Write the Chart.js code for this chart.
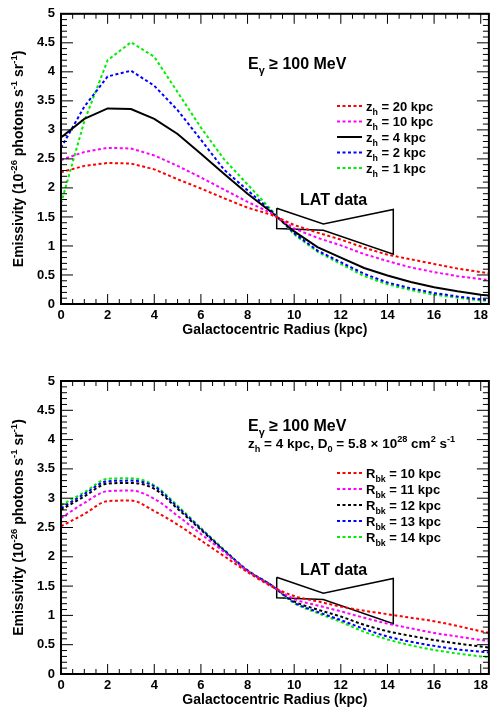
<!DOCTYPE html>
<html>
<head>
<meta charset="utf-8">
<script src="https://cdn.jsdelivr.net/npm/chart.js@4.4.0/dist/chart.umd.min.js"></script>
<style>
  body { margin: 0; background: #fff; }
  canvas { position: absolute; left: 0; }
</style>
</head>
<body>
<canvas id="topChart" width="492" height="340" style="top:0"></canvas>
<canvas id="bottomChart" width="492" height="372" style="top:340px"></canvas>
<script>
// Galactocentric radius grid (kpc)
const radiusKpc = [0, 1, 2, 3, 4, 5, 6, 7, 8, 9, 10, 11, 12, 13, 14, 15, 16, 17, 18, 19];

// Painel de cima: altura do halo z_h
const zh20 = [2.27, 2.38, 2.43, 2.42, 2.32, 2.15, 1.99, 1.82, 1.66, 1.54, 1.36, 1.23, 1.11, 0.97, 0.85, 0.77, 0.69, 0.61, 0.55, 0.49];
const zh10 = [2.48, 2.62, 2.69, 2.68, 2.56, 2.38, 2.18, 1.97, 1.76, 1.57, 1.30, 1.14, 1.01, 0.86, 0.74, 0.63, 0.55, 0.48, 0.43, 0.38];
const zh4  = [2.87, 3.19, 3.37, 3.36, 3.19, 2.93, 2.59, 2.24, 1.90, 1.59, 1.25, 0.98, 0.80, 0.62, 0.49, 0.38, 0.29, 0.22, 0.16, 0.12];
const zh2  = [2.69, 3.40, 3.92, 4.02, 3.76, 3.34, 2.83, 2.31, 1.96, 1.61, 1.22, 0.92, 0.72, 0.52, 0.37, 0.27, 0.19, 0.13, 0.08, 0.05];
const zh1  = [1.73, 3.15, 4.20, 4.51, 4.26, 3.65, 3.04, 2.49, 2.06, 1.63, 1.20, 0.90, 0.69, 0.48, 0.34, 0.24, 0.16, 0.11, 0.06, 0.04];
const zhLabels = ['z_{h} = 20 kpc', 'z_{h} = 10 kpc', 'z_{h} = 4 kpc', 'z_{h} = 2 kpc', 'z_{h} = 1 kpc'];

// Painel de baixo: R_bk
const rbk10 = [2.52, 2.73, 2.95, 2.96, 2.78, 2.55, 2.28, 2.01, 1.74, 1.50, 1.33, 1.24, 1.15, 1.08, 1.02, 0.96, 0.90, 0.82, 0.73, 0.66];
const rbk11 = [2.66, 2.92, 3.12, 3.13, 2.99, 2.70, 2.39, 2.08, 1.76, 1.51, 1.28, 1.17, 1.07, 0.96, 0.86, 0.78, 0.70, 0.64, 0.58, 0.53];
const rbk12 = [2.80, 3.03, 3.25, 3.26, 3.16, 2.82, 2.46, 2.10, 1.76, 1.52, 1.24, 1.10, 0.98, 0.84, 0.73, 0.65, 0.58, 0.52, 0.47, 0.42];
const rbk13 = [2.83, 3.07, 3.29, 3.30, 3.20, 2.85, 2.48, 2.11, 1.77, 1.52, 1.22, 1.06, 0.92, 0.77, 0.64, 0.55, 0.48, 0.42, 0.38, 0.34];
const rbk14 = [2.88, 3.10, 3.33, 3.34, 3.22, 2.87, 2.49, 2.12, 1.77, 1.52, 1.21, 1.04, 0.89, 0.72, 0.59, 0.49, 0.41, 0.35, 0.30, 0.26];
const rbkLabels = ['R_{bk} = 10 kpc', 'R_{bk} = 11 kpc', 'R_{bk} = 12 kpc', 'R_{bk} = 13 kpc', 'R_{bk} = 14 kpc'];

// LAT data (bowtie)
const latRadius = [9.25, 11.25, 14.25, 14.25, 11.25, 9.25, 9.25];
const latEmiss  = [1.65, 1.38, 1.63, 0.86, 1.27, 1.30, 1.65];

const seriesColors = ['#ff0000', '#ff00ff', '#000000', '#0000ff', '#00ee00'];
const xMax = 18.35;
const yMax = 5;
const FONT = '"Liberation Sans", Arial, Helvetica, sans-serif';

// "a_{b}" = subscrito, "a^{b}" = sobrescrito
function parseRich(str) {
    const parts = [];
    const re = /(_|\^)\{([^}]*)\}/g;
    let last = 0, m;
    while ((m = re.exec(str)) !== null) {
        if (m.index > last) parts.push({ t: str.slice(last, m.index) });
        parts.push({ t: m[2], sub: m[1] === '_', sup: m[1] === '^' });
        last = re.lastIndex;
    }
    if (last < str.length) parts.push({ t: str.slice(last) });
    return parts;
}

function richWidth(ctx, str, size) {
    let w = 0;
    parseRich(str).forEach(p => {
        const s = (p.sub || p.sup) ? size * 0.68 : size;
        ctx.font = `bold ${s}px ${FONT}`;
        w += ctx.measureText(p.t).width;
    });
    return w;
}

function drawRich(ctx, str, x, y, size) {
    ctx.textAlign = 'left';
    ctx.textBaseline = 'alphabetic';
    ctx.fillStyle = '#000';
    parseRich(str).forEach(p => {
        const s = (p.sub || p.sup) ? size * 0.68 : size;
        ctx.font = `bold ${s}px ${FONT}`;
        const dy = p.sub ? size * 0.3 : (p.sup ? -size * 0.42 : 0);
        ctx.fillText(p.t, x, y + dy);
        x += ctx.measureText(p.t).width;
    });
}

function makeSeries(values, color, dashed) {
    return {
        data: radiusKpc.map((r, i) => ({ x: r, y: values[i] })),
        borderColor: color,
        borderWidth: 2,
        borderDash: dashed ? [3, 2.5] : [],
        pointRadius: 0,
        tension: 0,
        fill: false
    };
}

function latDataset() {
    return {
        data: latRadius.map((r, i) => ({ x: r, y: latEmiss[i] })),
        borderColor: '#000',
        borderWidth: 1.5,
        pointRadius: 0,
        tension: 0,
        cubicInterpolationMode: 'default',
        fill: false
    };
}

function line(ctx, x1, y1, x2, y2) {
    ctx.beginPath();
    ctx.moveTo(x1, y1);
    ctx.lineTo(x2, y2);
    ctx.stroke();
}

// moldura, ticks internos, titulos, legenda e textos
function makeDecor(cfg) {
    return {
        id: 'decor',
        afterDraw(chart) {
            const { ctx, chartArea: a, scales: { x, y } } = chart;
            ctx.save();
            ctx.strokeStyle = '#000';
            ctx.lineWidth = 1;
            for (let i = 0; i <= yMax * 10; i++) {
                const py = y.getPixelForValue(i / 10);
                const len = i % 5 === 0 ? 12 : 6;
                line(ctx, a.left, py, a.left + len, py);
                line(ctx, a.right, py, a.right - len, py);
            }
            for (let i = 0; i * 0.5 <= xMax; i++) {
                const px = x.getPixelForValue(i * 0.5);
                const len = i % 4 === 0 ? 10 : 5;
                line(ctx, px, a.bottom, px, a.bottom - len);
                line(ctx, px, a.top, px, a.top + len);
            }
            ctx.lineWidth = 2;
            ctx.strokeRect(a.left, a.top, a.right - a.left, a.bottom - a.top);

            // titulo eixo x
            ctx.fillStyle = '#000';
            ctx.font = `bold 14px ${FONT}`;
            ctx.textAlign = 'center';
            ctx.textBaseline = 'middle';
            ctx.fillText('Galactocentric Radius (kpc)', (a.left + a.right) / 2, a.bottom + 26);

            // titulo eixo y
            const yTitle = 'Emissivity (10^{-26} photons s^{-1} sr^{-1})';
            const w = richWidth(ctx, yTitle, 14);
            ctx.save();
            ctx.translate(23, (a.top + a.bottom) / 2);
            ctx.rotate(-Math.PI / 2);
            drawRich(ctx, yTitle, -w / 2, 0, 14);
            ctx.restore();

            // textos
            cfg.texts.forEach(t => drawRich(ctx, t.str, t.x, t.y, t.size));

            // legenda
            cfg.legend.forEach((label, i) => {
                const ds = chart.data.datasets[i];
                const cy = cfg.legendTop + i * cfg.legendStep;
                ctx.save();
                ctx.strokeStyle = ds.borderColor;
                ctx.lineWidth = 2;
                ctx.setLineDash(ds.borderDash);
                line(ctx, 337, cy, 362, cy);
                ctx.restore();
                drawRich(ctx, label, 366, cy + 4.6, 13);
            });
            ctx.restore();
        }
    };
}

function panelOptions(topPad, bottomSpace, smooth) {
    const tickFont = { family: FONT, size: 13, weight: 'bold' };
    return {
        responsive: false,
        animation: false,
        layout: { padding: { top: topPad, right: 2, left: 0, bottom: 0 } },
        elements: { line: { cubicInterpolationMode: smooth ? 'monotone' : 'default' } },
        plugins: { legend: { display: false }, tooltip: { enabled: false } },
        scales: {
            x: {
                type: 'linear', min: 0, max: xMax,
                grid: { display: false, drawTicks: false },
                border: { display: false },
                ticks: { stepSize: 2, includeBounds: false, font: tickFont, color: '#000', padding: 4, maxRotation: 0, autoSkip: false },
                afterFit: s => { s.height = bottomSpace; }
            },
            y: {
                type: 'linear', min: 0, max: yMax,
                grid: { display: false, drawTicks: false },
                border: { display: false },
                ticks: {
                    stepSize: 0.5, font: tickFont, color: '#000', padding: 6, autoSkip: false,
                    callback: v => String(Math.round(v * 10) / 10)
                },
                afterFit: s => { s.width = 61; }
            }
        }
    };
}

// Grafico de cima
new Chart(document.getElementById('topChart'), {
    type: 'line',
    data: {
        datasets: [
            makeSeries(zh20, seriesColors[0], true),
            makeSeries(zh10, seriesColors[1], true),
            makeSeries(zh4, seriesColors[2], false),
            makeSeries(zh2, seriesColors[3], true),
            makeSeries(zh1, seriesColors[4], true),
            latDataset()
        ]
    },
    options: panelOptions(12, 36, false),
    plugins: [makeDecor({
        legend: zhLabels, legendTop: 106, legendStep: 15.5,
        texts: [
            { str: 'E_{γ} ≥ 100 MeV', x: 248, y: 69, size: 16 },
            { str: 'LAT data', x: 300, y: 205, size: 16 }
        ]
    })]
});

// Grafico de baixo
new Chart(document.getElementById('bottomChart'), {
    type: 'line',
    data: {
        datasets: [
            makeSeries(rbk10, seriesColors[0], true),
            makeSeries(rbk11, seriesColors[1], true),
            makeSeries(rbk12, seriesColors[2], true),
            makeSeries(rbk13, seriesColors[3], true),
            makeSeries(rbk14, seriesColors[4], true),
            latDataset()
        ]
    },
    options: panelOptions(41, 38, true),
    plugins: [makeDecor({
        legend: rbkLabels, legendTop: 133, legendStep: 16,
        texts: [
            { str: 'E_{γ} ≥ 100 MeV', x: 248, y: 91, size: 16 },
            { str: 'z_{h} = 4 kpc, D_{0} = 5.8 × 10^{28} cm^{2} s^{-1}', x: 248, y: 108, size: 13.5 },
            { str: 'LAT data', x: 300, y: 235, size: 16 }
        ]
    })]
});
</script>
</body>
</html>
